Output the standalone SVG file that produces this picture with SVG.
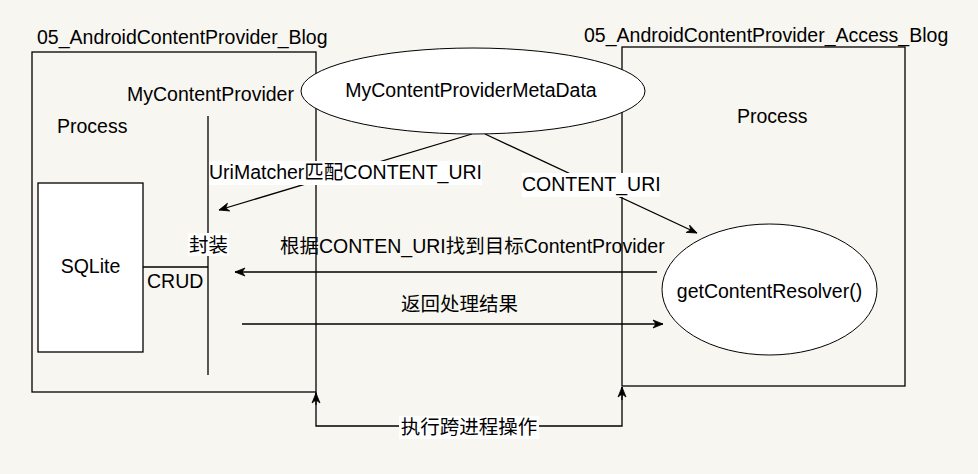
<svg xmlns="http://www.w3.org/2000/svg" width="978" height="474" viewBox="0 0 978 474">
<style>
text{font-family:"Liberation Sans","Noto Sans CJK SC",Arial,sans-serif;font-size:19.5px;fill:#000}
.ln{stroke:#000;stroke-width:1.3;fill:none}
.box{stroke:#000;stroke-width:1.3;fill:none}
.wbox{stroke:#000;stroke-width:1.3;fill:#fff}
.thin{stroke:#000;stroke-width:1;fill:#fff}
.bg{fill:#fff;stroke:none}
</style>
<defs>
<marker id="arr" viewBox="0 0 12 10" refX="11" refY="5" markerWidth="12" markerHeight="10" markerUnits="userSpaceOnUse" orient="auto">
<path d="M1,1 L11,5 L1,9 L4,5 Z" fill="#000" stroke="#000" stroke-width="0.8"/>
</marker>
</defs>
<rect width="978" height="474" fill="#f8f6f0"/>
<g id="left-process">
<rect class="box" x="32" y="52" width="284" height="340"/>
<text x="37" y="44">05_AndroidContentProvider_Blog</text>
<text x="57" y="133">Process</text>
</g>
<g id="right-process">
<rect class="box" x="622" y="47" width="283" height="339"/>
<text x="584" y="42">05_AndroidContentProvider_Access_Blog</text>
<text x="737" y="123">Process</text>
</g>
<g id="sqlite">
<rect class="wbox" x="38" y="183" width="105" height="169"/>
<text x="90.5" y="273" text-anchor="middle">SQLite</text>
</g>
<g id="mycontentprovider">
<line class="ln" x1="208" y1="116" x2="208" y2="375"/>
<text x="127" y="101">MyContentProvider</text>
</g>
<g id="connectors">
<line class="ln" x1="143" y1="267" x2="208" y2="267"/>
<text x="147" y="288">CRUD</text>
<rect class="bg" x="188" y="233" width="41" height="23"/>
<text x="208.5" y="252" text-anchor="middle">封装</text>
<line class="ln" x1="472" y1="134" x2="219" y2="210" marker-end="url(#arr)"/>
<line class="ln" x1="485" y1="134" x2="697" y2="233" marker-end="url(#arr)"/>
<line class="ln" x1="657" y1="272" x2="235" y2="272" marker-end="url(#arr)"/>
<text x="280" y="253">根据CONTEN_URI找到目标ContentProvider</text>
<line class="ln" x1="242" y1="324" x2="663" y2="324" marker-end="url(#arr)"/>
<text x="401" y="311">返回处理结果</text>
<polyline class="ln" points="316,392 316,426 622,426 622,387"/>
<line class="ln" x1="316" y1="405" x2="316" y2="393" marker-end="url(#arr)"/>
<line class="ln" x1="622" y1="400" x2="622" y2="387" marker-end="url(#arr)"/>
<rect class="bg" x="209" y="161" width="273" height="24"/>
<text x="209" y="179">UriMatcher匹配CONTENT_URI</text>
<rect class="bg" x="522" y="173" width="138" height="24"/>
<text x="522" y="191">CONTENT_URI</text>
<rect class="bg" x="399" y="416" width="140" height="23"/>
<text x="469" y="434" text-anchor="middle">执行跨进程操作</text>
</g>
<g id="metadata">
<ellipse class="thin" cx="473" cy="91" rx="172" ry="43"/>
<text x="471" y="97" text-anchor="middle">MyContentProviderMetaData</text>
</g>
<g id="resolver">
<ellipse class="thin" cx="769.5" cy="289.5" rx="107.5" ry="65.5"/>
<text x="769.5" y="298" text-anchor="middle">getContentResolver()</text>
</g>
</svg>
